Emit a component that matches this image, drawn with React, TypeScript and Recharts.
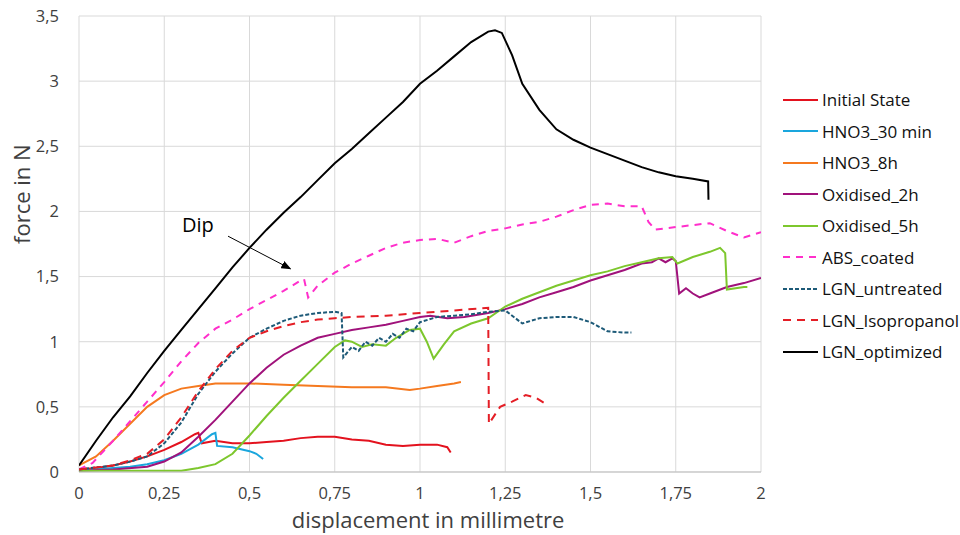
import { LineChart, Line, XAxis, YAxis, CartesianGrid, ReferenceLine } from 'recharts';

// [displacement mm, force N]
const initialState = [
  [0, 0.02], [0.05, 0.03], [0.1, 0.05], [0.15, 0.08], [0.2, 0.12], [0.25, 0.17], [0.3, 0.23], [0.34, 0.29],
  [0.35, 0.3], [0.36, 0.22], [0.4, 0.24], [0.45, 0.22], [0.5, 0.22], [0.55, 0.23], [0.6, 0.24], [0.65, 0.26],
  [0.7, 0.27], [0.75, 0.27], [0.8, 0.25], [0.85, 0.24], [0.9, 0.21], [0.95, 0.2], [1.0, 0.21], [1.05, 0.21],
  [1.08, 0.19], [1.09, 0.15],
];
const hno3_30min = [
  [0, 0.01], [0.1, 0.03], [0.15, 0.04], [0.2, 0.06], [0.25, 0.09], [0.3, 0.14], [0.35, 0.21], [0.39, 0.29],
  [0.4, 0.3], [0.405, 0.2], [0.45, 0.19], [0.5, 0.16], [0.52, 0.14], [0.54, 0.1],
];
const hno3_8h = [
  [0, 0.05], [0.05, 0.12], [0.1, 0.24], [0.15, 0.37], [0.2, 0.5], [0.25, 0.59], [0.3, 0.64], [0.35, 0.66],
  [0.4, 0.68], [0.45, 0.68], [0.5, 0.68], [0.6, 0.67], [0.7, 0.66], [0.8, 0.65], [0.9, 0.65], [0.97, 0.63],
  [1.0, 0.64], [1.05, 0.66], [1.1, 0.68], [1.12, 0.69],
];
const oxidised_2h = [
  [0, 0.01], [0.1, 0.02], [0.2, 0.04], [0.25, 0.08], [0.3, 0.15], [0.35, 0.27], [0.4, 0.4], [0.45, 0.54],
  [0.5, 0.68], [0.55, 0.8], [0.6, 0.9], [0.65, 0.97], [0.7, 1.03], [0.75, 1.06], [0.8, 1.09], [0.85, 1.11],
  [0.9, 1.13], [0.95, 1.16], [1.0, 1.19], [1.03, 1.2], [1.08, 1.18], [1.13, 1.19], [1.2, 1.22], [1.25, 1.25],
  [1.3, 1.29], [1.35, 1.34], [1.4, 1.38], [1.45, 1.42], [1.5, 1.47], [1.55, 1.51], [1.6, 1.55], [1.65, 1.6],
  [1.68, 1.61], [1.7, 1.64], [1.72, 1.61], [1.74, 1.64], [1.75, 1.62], [1.76, 1.37], [1.78, 1.41], [1.8, 1.37],
  [1.82, 1.34], [1.85, 1.37], [1.9, 1.42], [1.95, 1.45], [2.0, 1.49],
];
const oxidised_5h = [
  [0, 0.01], [0.1, 0.01], [0.2, 0.01], [0.3, 0.01], [0.35, 0.03], [0.4, 0.06], [0.45, 0.14], [0.5, 0.28],
  [0.55, 0.43], [0.6, 0.57], [0.65, 0.7], [0.7, 0.83], [0.75, 0.96], [0.78, 1.01], [0.8, 1.0], [0.83, 0.96],
  [0.86, 0.98], [0.9, 0.97], [0.93, 1.03], [0.97, 1.09], [1.0, 1.1], [1.02, 1.0], [1.04, 0.87], [1.07, 0.98],
  [1.1, 1.08], [1.15, 1.14], [1.2, 1.18], [1.25, 1.27], [1.3, 1.33], [1.35, 1.38], [1.4, 1.43], [1.45, 1.47],
  [1.5, 1.51], [1.55, 1.54], [1.6, 1.58], [1.65, 1.61], [1.7, 1.64], [1.74, 1.65], [1.755, 1.6], [1.8, 1.65],
  [1.85, 1.69], [1.88, 1.72], [1.895, 1.68], [1.9, 1.4], [1.95, 1.42], [1.96, 1.42],
];
const absCoated = [
  [0, 0.02], [0.04, 0.07], [0.1, 0.24], [0.15, 0.39], [0.2, 0.54], [0.25, 0.69], [0.3, 0.85], [0.35, 0.99],
  [0.4, 1.1], [0.45, 1.17], [0.5, 1.25], [0.55, 1.32], [0.6, 1.39], [0.65, 1.47], [0.66, 1.48], [0.672, 1.34],
  [0.7, 1.43], [0.75, 1.53], [0.8, 1.6], [0.85, 1.66], [0.9, 1.72], [0.95, 1.76], [1.0, 1.78], [1.05, 1.79],
  [1.1, 1.76], [1.15, 1.81], [1.2, 1.85], [1.25, 1.87], [1.3, 1.9], [1.35, 1.92], [1.4, 1.96], [1.45, 2.01],
  [1.5, 2.05], [1.55, 2.06], [1.6, 2.04], [1.65, 2.04], [1.67, 1.92], [1.69, 1.86], [1.75, 1.88], [1.85, 1.91],
  [1.9, 1.85], [1.95, 1.8], [2.0, 1.84],
];
const lgnUntreated = [
  [0, 0.02], [0.1, 0.05], [0.15, 0.08], [0.2, 0.12], [0.25, 0.22], [0.3, 0.38], [0.35, 0.6], [0.4, 0.77],
  [0.45, 0.91], [0.5, 1.03], [0.55, 1.1], [0.6, 1.16], [0.65, 1.2], [0.7, 1.22], [0.75, 1.23], [0.77, 1.22],
  [0.775, 0.88], [0.8, 0.96], [0.82, 0.93], [0.84, 1.0], [0.86, 0.97], [0.88, 1.03], [0.9, 1.0], [0.92, 1.06],
  [0.94, 1.03], [0.96, 1.1], [0.98, 1.08], [1.0, 1.15], [1.05, 1.19], [1.1, 1.2], [1.15, 1.21], [1.2, 1.23],
  [1.25, 1.24], [1.3, 1.14], [1.35, 1.18], [1.4, 1.19], [1.45, 1.19], [1.5, 1.15], [1.55, 1.08], [1.6, 1.07],
  [1.62, 1.07],
];
const lgnIsopropanol = [
  [0, 0.02], [0.1, 0.05], [0.15, 0.09], [0.2, 0.14], [0.25, 0.25], [0.3, 0.42], [0.35, 0.62], [0.4, 0.79],
  [0.45, 0.93], [0.5, 1.03], [0.55, 1.08], [0.6, 1.12], [0.65, 1.15], [0.7, 1.17], [0.75, 1.18], [0.8, 1.19],
  [0.9, 1.2], [1.0, 1.22], [1.1, 1.24], [1.2, 1.26], [1.202, 0.37], [1.235, 0.5], [1.27, 0.54], [1.31, 0.59],
  [1.34, 0.57], [1.37, 0.52],
];
const lgnOptimized = [
  [0, 0.05], [0.05, 0.24], [0.1, 0.42], [0.15, 0.58], [0.2, 0.76], [0.25, 0.93], [0.3, 1.09], [0.35, 1.25],
  [0.4, 1.41], [0.45, 1.57], [0.5, 1.72], [0.55, 1.86], [0.6, 1.99], [0.65, 2.11], [0.7, 2.24], [0.75, 2.37],
  [0.8, 2.48], [0.85, 2.6], [0.9, 2.72], [0.95, 2.84], [1.0, 2.98], [1.05, 3.08], [1.1, 3.19], [1.15, 3.3],
  [1.2, 3.38], [1.22, 3.39], [1.24, 3.37], [1.27, 3.2], [1.3, 2.98], [1.35, 2.78], [1.4, 2.63], [1.45, 2.55],
  [1.5, 2.49], [1.55, 2.44], [1.6, 2.39], [1.65, 2.34], [1.7, 2.3], [1.75, 2.27], [1.8, 2.25], [1.845, 2.23],
  [1.846, 2.09],
];

const xTicks = [0, 0.25, 0.5, 0.75, 1, 1.25, 1.5, 1.75, 2];
const yTicks = [0, 0.5, 1, 1.5, 2, 2.5, 3, 3.5];

const series = [
  { name: 'Initial State', data: initialState, color: '#E3121E', dash: undefined },
  { name: 'HNO3_30 min', data: hno3_30min, color: '#1AA6DD', dash: undefined },
  { name: 'HNO3_8h', data: hno3_8h, color: '#F5791F', dash: undefined },
  { name: 'Oxidised_2h', data: oxidised_2h, color: '#A0127B', dash: undefined },
  { name: 'Oxidised_5h', data: oxidised_5h, color: '#7DC72D', dash: undefined },
  { name: 'ABS_coated', data: absCoated, color: '#FF2FCB', dash: '7 6' },
  { name: 'LGN_untreated', data: lgnUntreated, color: '#1D5A78', dash: '4 2' },
  { name: 'LGN_Isopropanol', data: lgnIsopropanol, color: '#E41E26', dash: '8 6' },
  { name: 'LGN_optimized', data: lgnOptimized, color: '#000000', dash: undefined },
];

const FONT = '"Open Sans", sans-serif';
const comma = (v: number) => String(v).replace('.', ',');

function LegendBox() {
  return (
    <div style={{ position: 'absolute', left: 780, top: 84, width: 180, fontFamily: FONT, fontSize: 17, color: '#111' }}>
      {series.map((s) => (
        <div key={s.name} style={{ display: 'flex', alignItems: 'center', height: 31.5 }}>
          <svg width={40} height={10} style={{ flex: 'none' }}>
            <line x1={3} y1={5} x2={38} y2={5} stroke={s.color} strokeWidth={2} strokeDasharray={s.dash} />
          </svg>
          <span style={{ marginLeft: 2, whiteSpace: 'nowrap' }}>{s.name}</span>
        </div>
      ))}
    </div>
  );
}

function DipArrow(props: any) {
  const { x1, y1, x2, y2 } = props;
  return (
    <g>
      <line x1={x1} y1={y1} x2={x2} y2={y2} stroke="#000" strokeWidth={1} markerEnd="url(#arrowHead)" />
      <text x={x1 - 46} y={y1 - 4} fontFamily={FONT} fontSize={20} fill="#000">Dip</text>
    </g>
  );
}

export default function App() {
  return (
    <div style={{ position: 'absolute', left: 0, top: 0, width: 960, height: 535, background: '#fff' }}>
      <LineChart width={960} height={535} margin={{ top: 16, right: 199, left: 0, bottom: 33 }}>
        <defs>
          <marker id="arrowHead" markerWidth="10" markerHeight="8" refX="9" refY="4" orient="auto" markerUnits="userSpaceOnUse">
            <path d="M0,0 L10,4 L0,8 z" fill="#000" />
          </marker>
        </defs>
        <CartesianGrid stroke="#D9D9D9" strokeWidth={1} />
        <XAxis
          type="number"
          dataKey="x"
          domain={[0, 2]}
          ticks={xTicks}
          tickFormatter={comma}
          tick={{ fill: '#404040', fontSize: 16.5, fontFamily: FONT }}
          tickLine={false}
          axisLine={{ stroke: '#BFBFBF' }}
          tickMargin={9}
          allowDataOverflow
          label={{ value: 'displacement in millimetre', position: 'insideBottom', offset: -26, dx: 8, fill: '#404040', fontSize: 22, fontFamily: FONT }}
        />
        <YAxis
          type="number"
          domain={[0, 3.5]}
          ticks={yTicks}
          tickFormatter={comma}
          tick={{ fill: '#404040', fontSize: 16.5, fontFamily: FONT }}
          tickLine={false}
          axisLine={false}
          width={79}
          tickMargin={14}
          label={{ value: 'force in N', angle: -90, position: 'insideLeft', offset: 22, fill: '#404040', fontSize: 22, fontFamily: FONT }}
        />
        <ReferenceLine
          segment={[{ x: 0.437, y: 1.81 }, { x: 0.62, y: 1.56 }]}
          shape={DipArrow}
          ifOverflow="visible"
        />
        {series.map((s) => (
          <Line
            key={s.name}
            name={s.name}
            data={s.data.map(([x, y]) => ({ x, y }))}
            dataKey="y"
            type="linear"
            stroke={s.color}
            strokeWidth={2}
            strokeDasharray={s.dash}
            dot={false}
            activeDot={false}
            isAnimationActive={false}
          />
        ))}
      </LineChart>
      <LegendBox />
    </div>
  );
}
